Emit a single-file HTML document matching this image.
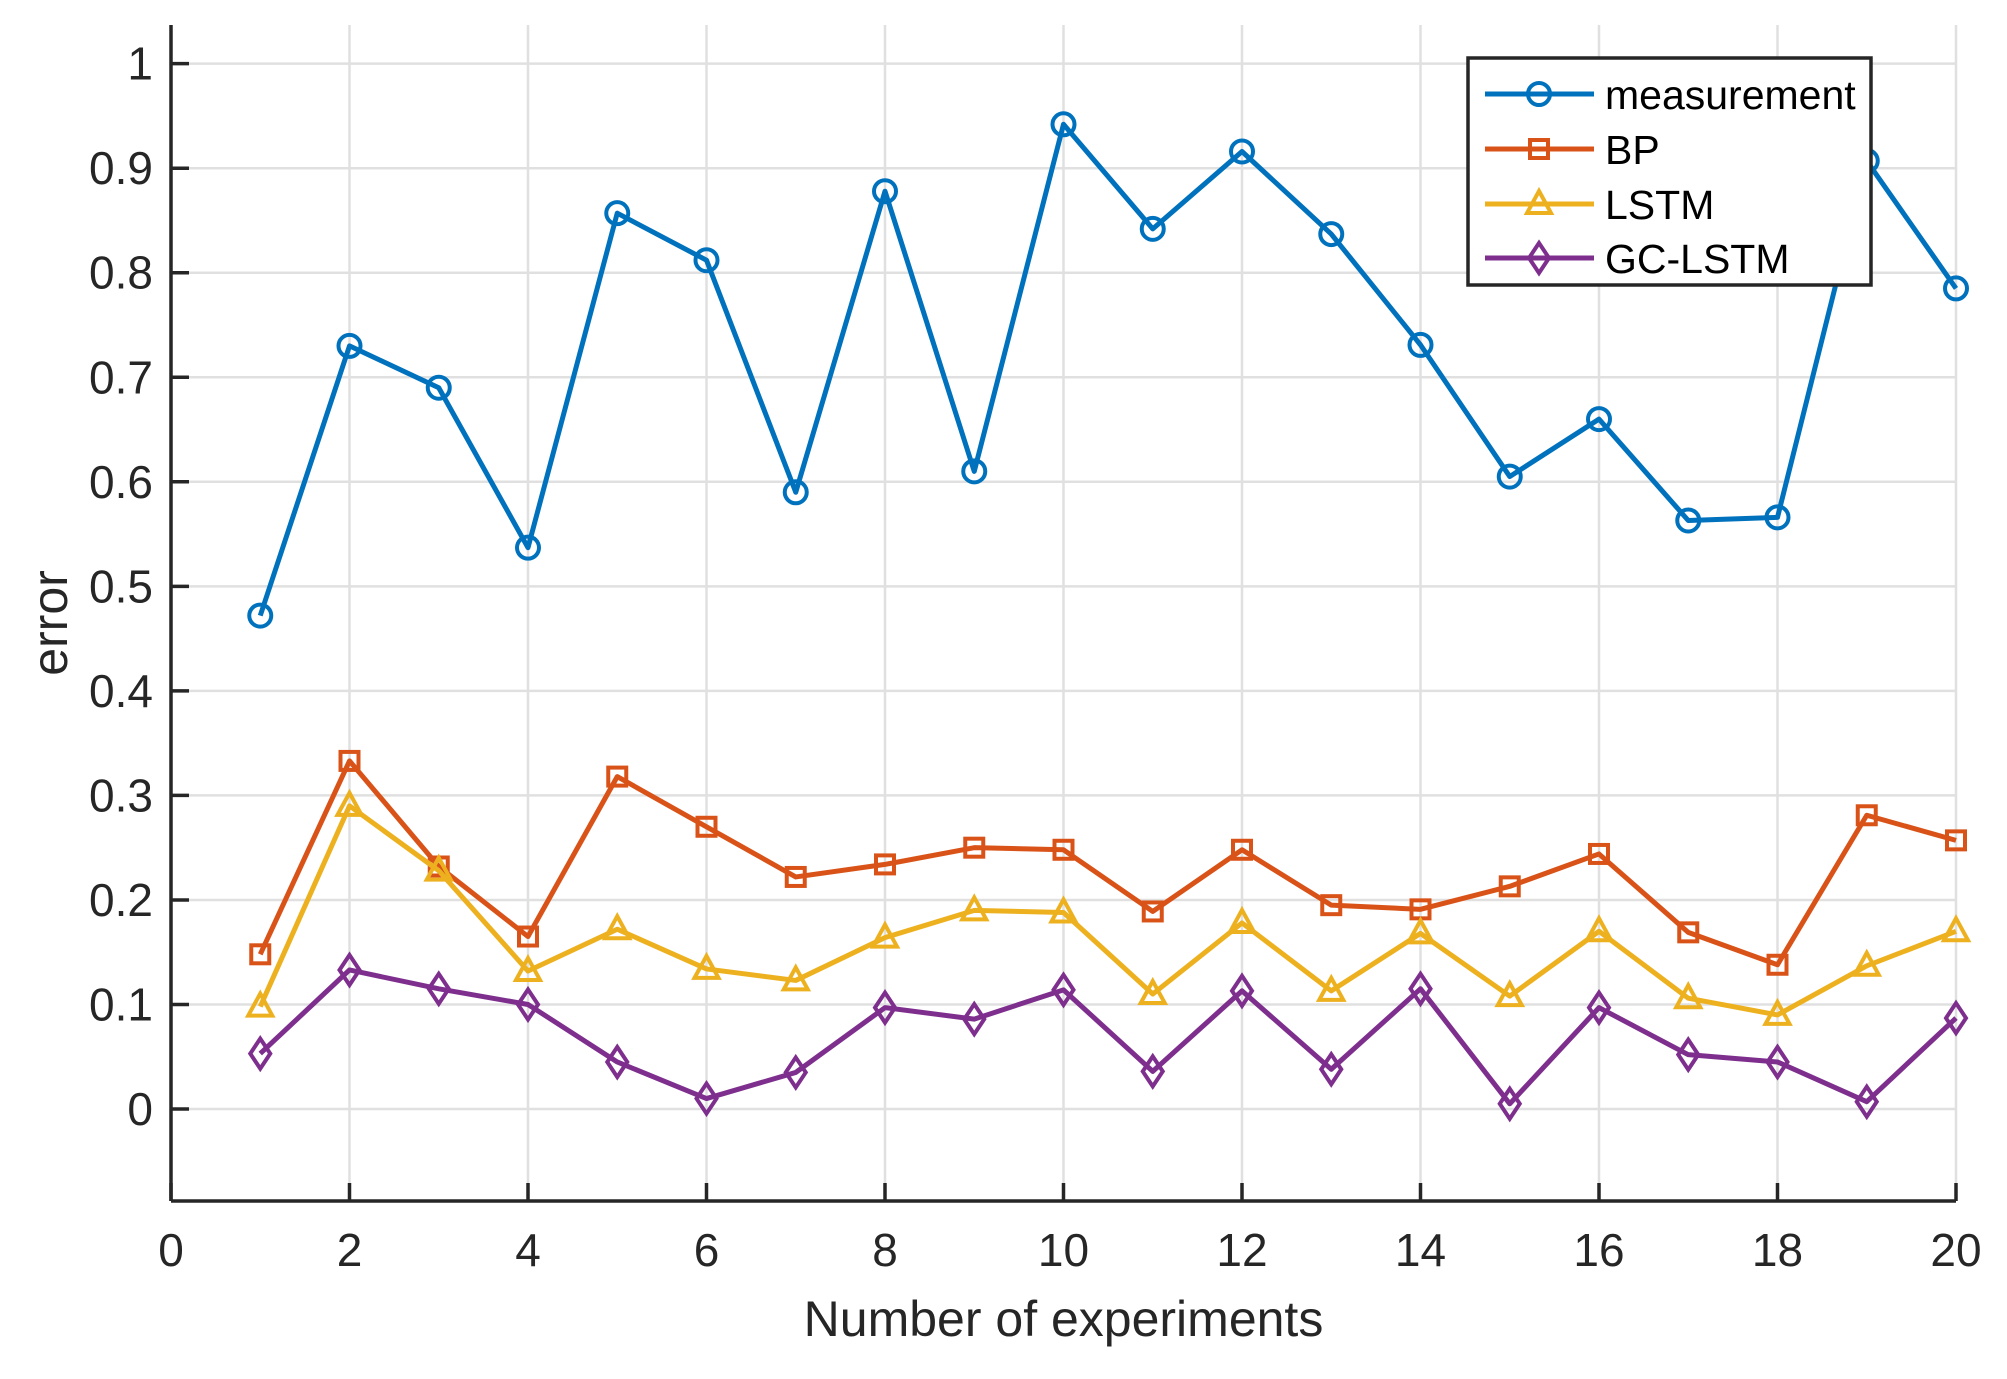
<!DOCTYPE html>
<html><head><meta charset="utf-8"><style>
body{margin:0;background:#fff}
svg text{font-family:"Liberation Sans",sans-serif;fill:#262626}
</style></head><body>
<svg id="chart" width="2007" height="1374" xmlns="http://www.w3.org/2000/svg"></svg>
<script>
const xCats=[1,2,3,4,5,6,7,8,9,10,11,12,13,14,15,16,17,18,19,20];
const measurement=[0.472,0.73,0.69,0.537,0.857,0.812,0.59,0.878,0.61,0.942,0.842,0.916,0.837,0.731,0.605,0.66,0.563,0.566,0.907,0.785];
const bp=[0.148,0.333,0.232,0.165,0.318,0.270,0.222,0.234,0.250,0.248,0.189,0.248,0.195,0.191,0.213,0.244,0.169,0.138,0.281,0.257];
const lstm=[0.098,0.29,0.228,0.132,0.172,0.134,0.123,0.164,0.19,0.188,0.11,0.178,0.113,0.168,0.108,0.17,0.106,0.09,0.137,0.17];
const gclstm=[0.053,0.133,0.115,0.1,0.045,0.01,0.035,0.097,0.086,0.114,0.036,0.113,0.038,0.115,0.005,0.097,0.052,0.045,0.007,0.087];
const xTicks=[0,2,4,6,8,10,12,14,16,18,20];
const yTicks=[0,0.1,0.2,0.3,0.4,0.5,0.6,0.7,0.8,0.9,1];
const seriesNames=["measurement","BP","LSTM","GC-LSTM"];

const NS="http://www.w3.org/2000/svg";
const svg=document.getElementById('chart');
const L=171,R=1956,T=25,B=1201;
const xMin=0,xMax=20,yMin=-0.088,yMax=1.037;
const sx=v=>L+(v-xMin)/(xMax-xMin)*(R-L);
const sy=v=>B-(v-yMin)/(yMax-yMin)*(B-T);
function mk(tag,attrs,parent){const e=document.createElementNS(NS,tag);for(const k in attrs)e.setAttribute(k,attrs[k]);(parent||svg).appendChild(e);return e;}

const grid=mk('g',{});


xTicks.forEach(t=>{mk('line',{x1:sx(t),x2:sx(t),y1:T,y2:B,stroke:'#e0e0e0','stroke-width':2.5},grid);});
yTicks.forEach(t=>{mk('line',{x1:L,x2:R,y1:sy(t),y2:sy(t),stroke:'#e0e0e0','stroke-width':2.5},grid);});

const axes=mk('g',{});


mk('line',{x1:L,x2:L,y1:T,y2:B,stroke:'#262626','stroke-width':3.5},axes);
mk('line',{x1:L,x2:R,y1:B,y2:B,stroke:'#262626','stroke-width':3.5},axes);
xTicks.forEach(t=>{
  mk('line',{x1:sx(t),x2:sx(t),y1:B,y2:B-18,stroke:'#262626','stroke-width':3.5},axes);
  const tx=mk('text',{x:sx(t),y:1266,'text-anchor':'middle','font-size':46},axes);
  
  
  tx.textContent=t;
});
yTicks.forEach(t=>{
  mk('line',{x1:L,x2:L+18,y1:sy(t),y2:sy(t),stroke:'#262626','stroke-width':3.5},axes);
  const tx=mk('text',{x:153,y:sy(t)+16,'text-anchor':'end','font-size':46},axes);
  
  
  tx.textContent=String(t);
});
const xl=mk('text',{x:(L+R)/2,y:1336,'text-anchor':'middle','font-size':50});


xl.textContent='Number of experiments';
const yl=mk('text',{x:0,y:0,'text-anchor':'middle','font-size':50,transform:'translate(67,623) rotate(-90)'});


yl.textContent='error';

function marker(type,x,y,color,parent){
  const a={fill:'none',stroke:color,'stroke-width':4};
  if(type==='o'){return mk('circle',Object.assign({cx:x,cy:y,r:11},a),parent);}
  if(type==='s'){return mk('rect',Object.assign({x:x-9,y:y-9,width:18,height:18},a),parent);}
  if(type==='^'){return mk('polygon',Object.assign({points:`${x},${y-13} ${x+12},${y+9} ${x-12},${y+9}`},a),parent);}
  return mk('polygon',Object.assign({points:`${x},${y-15} ${x+10},${y} ${x},${y+15} ${x-10},${y}`},a),parent);
}
const defs=[[measurement,'#0072BD','o','measurement'],[bp,'#D95319','s','bp'],[lstm,'#EDB120','^','lstm'],[gclstm,'#7E2F8E','d','gc-lstm']];
defs.forEach(([vals,color,m,nm])=>{
  const g=mk('g',{});
  
  
  mk('polyline',{points:vals.map((v,i)=>sx(xCats[i])+','+sy(v)).join(' '),fill:'none',stroke:color,'stroke-width':5,'stroke-linejoin':'round'},g);
  vals.forEach((v,i)=>{
    const p=marker(m,sx(xCats[i]),sy(v),color,g);
    
    
  });
});

const leg=mk('g',{});


mk('rect',{x:1468,y:58,width:403,height:227,fill:'#fff',stroke:'#262626','stroke-width':3.5},leg);
const rows=[94,149,204,258];
defs.forEach(([vals,color,m],i)=>{
  const e=mk('g',{},leg);
  
  
  mk('line',{x1:1485,x2:1594,y1:rows[i],y2:rows[i],stroke:color,'stroke-width':5},e);
  marker(m,1539,rows[i],color,e);
  const t=mk('text',{x:1605,y:rows[i]+15,'font-size':41,style:'fill:#000'},e);
  t.textContent=seriesNames[i];
});
</script>
</body></html>
